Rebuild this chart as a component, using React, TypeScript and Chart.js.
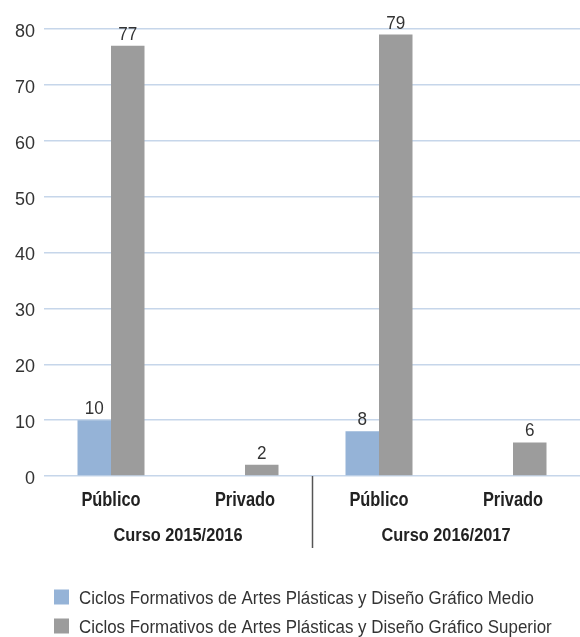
import React, { useEffect, useRef } from "react";
import { Chart, registerables } from "chart.js";

Chart.register(...registerables);

const categories = ["Público", "Privado", "Público", "Privado"];
const groups = ["Curso 2015/2016", "Curso 2016/2017"];
const medioValues: (number | null)[] = [10, null, 8, null];
const superiorValues: (number | null)[] = [77, 2, 79, 6];
const seriesNames = [
  "Ciclos Formativos de Artes Plásticas y Diseño Gráfico Medio",
  "Ciclos Formativos de Artes Plásticas y Diseño Gráfico Superior",
];
const yTicks = { min: 0, max: 80, step: 10 };

const FONT = "'Liberation Sans', Arial, sans-serif";
const BLUE = "#95b3d7";
const GRAY = "#9c9c9c";

function drawNarrow(ctx: any, text: string, x: number, y: number, font: string, sx: number, align: string, color: string) {
  ctx.save();
  ctx.font = font;
  ctx.fillStyle = color;
  ctx.textAlign = align;
  ctx.textBaseline = "alphabetic";
  ctx.translate(x, y);
  ctx.scale(sx, 1);
  ctx.fillText(text, 0, 0);
  ctx.restore();
}

const valueLabels = {
  id: "valueLabels",
  afterDatasetsDraw(chart: any) {
    const ctx = chart.ctx;
    chart.data.datasets.forEach((ds: any, i: number) => {
      const meta = chart.getDatasetMeta(i);
      meta.data.forEach((el: any, j: number) => {
        const v = ds.data[j];
        if (v === null || v === undefined) return;
        drawNarrow(ctx, String(v), el.x, el.y - 6, `18px ${FONT}`, 0.95, "center", "#333");
      });
    });
  },
};

const extras = {
  id: "extras",
  afterDraw(chart: any) {
    const ctx = chart.ctx;
    const x = chart.scales.x;
    const x2 = chart.scales.x2;
    const area = chart.chartArea;
    // category labels
    categories.forEach((c, i) => {
      drawNarrow(ctx, c, x.getPixelForValue(i), area.bottom + 30, `bold 20px ${FONT}`, 0.82, "center", "#222");
    });
    // group labels
    groups.forEach((g, i) => {
      drawNarrow(ctx, g, x2.getPixelForValue(i), area.bottom + 65, `bold 19px ${FONT}`, 0.86, "center", "#222");
    });
    // group separator
    ctx.save();
    const sx = Math.round((x.getPixelForValue(1) + x.getPixelForValue(2)) / 2) + 0.5;
    ctx.strokeStyle = "#555";
    ctx.lineWidth = 1.5;
    ctx.beginPath();
    ctx.moveTo(sx, area.bottom);
    ctx.lineTo(sx, area.bottom + 72);
    ctx.stroke();
    ctx.restore();
    // legend
    const colors = [BLUE, GRAY];
    seriesNames.forEach((name, i) => {
      const cy = chart.height - 40 + i * 29;
      ctx.fillStyle = colors[i];
      ctx.fillRect(54, cy - 7.5, 15, 15);
      drawNarrow(ctx, name, 79, cy + 6.5, `19px ${FONT}`, 0.89, "left", "#333");
    });
  },
};

if (typeof document !== "undefined") {
  document.body.style.margin = "0";
}

export default function App() {
  const ref = useRef<HTMLCanvasElement | null>(null);
  useEffect(() => {
    if (!ref.current) return;
    const chart = new Chart(ref.current, {
      type: "bar",
      data: {
        labels: categories,
        datasets: [
          { label: seriesNames[0], data: medioValues, backgroundColor: BLUE, xAxisID: "x" },
          { label: seriesNames[1], data: superiorValues, backgroundColor: GRAY, xAxisID: "x" },
        ],
      },
      options: {
        animation: false,
        responsive: false,
        maintainAspectRatio: false,
        layout: { padding: { top: 29, right: 0, left: 0, bottom: 89 } },
        datasets: { bar: { categoryPercentage: 0.5, barPercentage: 1.0 } as any },
        plugins: { legend: { display: false }, tooltip: { enabled: false } },
        scales: {
          x: {
            type: "category",
            position: "bottom",
            grid: { display: false, drawTicks: false },
            border: { display: false },
            ticks: { display: false },
            afterFit(s: any) { s.height = 36; },
          },
          x2: {
            type: "category",
            position: "bottom",
            labels: groups,
            offset: true,
            grid: { display: false, drawTicks: false },
            border: { display: false },
            ticks: { display: false },
            afterFit(s: any) { s.height = 36; },
          },
          y: {
            min: yTicks.min,
            max: yTicks.max,
            ticks: { stepSize: yTicks.step, color: "#333", padding: 9, labelOffset: 3, font: { family: FONT, size: 18 } },
            grid: { color: "#c6d6ea", lineWidth: 1.5, drawTicks: false },
            border: { display: false },
            afterFit(s: any) { s.width = 44; },
          },
        },
      } as any,
      plugins: [valueLabels, extras],
    });
    return () => chart.destroy();
  }, []);
  return (
    <div style={{ width: 580, height: 637 }}>
      <canvas ref={ref} width={580} height={637} style={{ display: "block", width: 580, height: 637 }} />
    </div>
  );
}
